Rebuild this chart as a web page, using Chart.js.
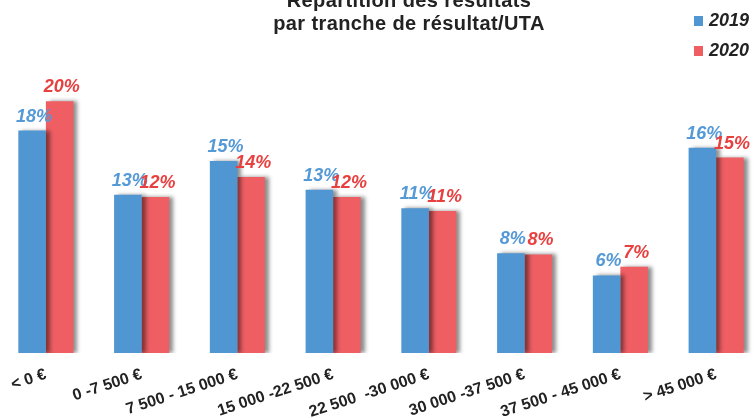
<!DOCTYPE html>
<html>
<head>
<meta charset="utf-8">
<script src="https://cdn.jsdelivr.net/npm/chart.js@4"></script>
<style>
    html, body { margin: 0; padding: 0; background: #fff; overflow: hidden; }
    body { width: 754px; height: 418px; position: relative; font-family: 'Liberation Sans', Arial, sans-serif; }
    #wrap { position: absolute; left: -2px; top: 0; width: 766px; height: 418px; }
    #title { position: absolute; left: 209px; width: 400px; top: -11px; text-align: center;
             font-weight: bold; font-size: 20px; line-height: 22.5px; color: #222; letter-spacing: 0.4px; }
    .leg { position: absolute; left: 694px; font-weight: bold; font-style: italic; font-size: 18px; color: #222; }
    .leg span { display: inline-block; width: 9px; height: 10px; margin-right: 6px; vertical-align: 0px; }
</style>
</head>
<body>
<div id="wrap"><canvas id="chart"></canvas></div>
<div id="title">Répartition des résultats<br>par tranche de résultat/UTA</div>
<div class="leg" style="top:10px"><span style="background:#4f96d2"></span>2019</div>
<div class="leg" style="top:40px"><span style="background:#ef5e63"></span>2020</div>
<script>
// tranches de résultat/UTA
const categories = ['< 0 €', '0 -7 500 €', '7 500 - 15 000 €', '15 000 -22 500 €',
    '22 500  -30 000 €', '30 000 -37 500 €', '37 500 - 45 000 €', '> 45 000 €'];

// part des exploitations (%)
const values2019 = [17.6, 12.52, 15.2, 12.92, 11.45, 7.9, 6.14, 16.25];
const values2020 = [19.93, 12.34, 13.93, 12.34, 11.23, 7.8, 6.82, 15.47];

const blue = '#4f96d2';
const red = '#ef5e63';
const blueText = '#5599d6';
const redText = '#e8403f';

const barExtras = {
    id: 'barExtras',
    beforeDatasetsDraw(chart) {
        const ctx = chart.ctx;
        ctx.save();
        ctx.shadowColor = 'rgba(0,0,0,0.45)';
        ctx.shadowOffsetX = 4;
        ctx.shadowOffsetY = 0;
        ctx.shadowBlur = 4;
    },
    afterDatasetsDraw(chart) {
        const ctx = chart.ctx;
        ctx.restore();
        ctx.save();
        ctx.font = 'italic bold 18px "Liberation Sans", Arial, sans-serif';
        ctx.textAlign = 'center';
        ctx.textBaseline = 'alphabetic';
        chart.data.datasets.forEach((ds, i) => {
            const meta = chart.getDatasetMeta(i);
            ctx.fillStyle = i === 0 ? blueText : redText;
            meta.data.forEach((bar, j) => {
                ctx.fillText(Math.round(ds.data[j]) + '%', bar.x + 2, bar.y - 9);
            });
        });
        ctx.restore();
    }
};

new Chart(document.getElementById('chart'), {
    type: 'bar',
    data: {
        labels: categories,
        datasets: [
            { label: '2019', data: values2019, backgroundColor: blue },
            { label: '2020', data: values2020, backgroundColor: red }
        ]
    },
    options: {
        responsive: true,
        maintainAspectRatio: false,
        animation: false,
        categoryPercentage: 0.575,
        barPercentage: 1,
        layout: { padding: { top: 75, left: 0, right: 0, bottom: 0 } },
        plugins: {
            legend: { display: false },
            tooltip: { enabled: false }
        },
        scales: {
            x: {
                grid: { display: false, drawTicks: false },
                border: { display: false },
                ticks: {
                    color: '#222',
                    font: { family: '"Liberation Sans", Arial, sans-serif', size: 16, weight: 'bold' },
                    minRotation: 18,
                    maxRotation: 18,
                    autoSkip: false,
                    padding: 12
                },
                afterFit(scale) {
                    scale.height = 65;
                    scale.paddingLeft = 0;
                    scale.paddingRight = 0;
                }
            },
            y: {
                display: false,
                min: 0,
                max: 22
            }
        }
    },
    plugins: [barExtras]
});
</script>
</body>
</html>
